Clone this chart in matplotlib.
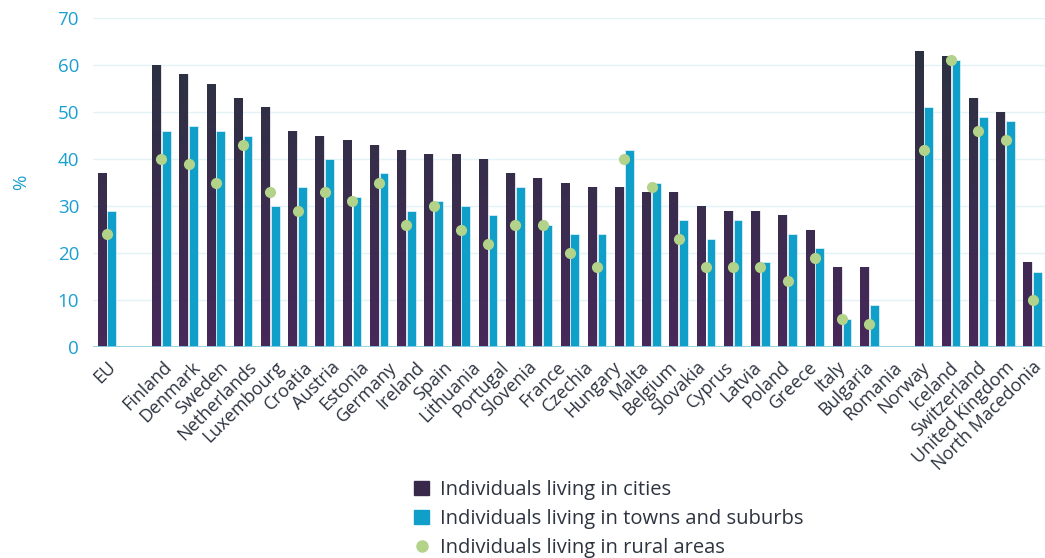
import numpy as np
import matplotlib.pyplot as plt
from matplotlib.colors import LinearSegmentedColormap
from matplotlib.patches import Patch
from matplotlib.lines import Line2D

plt.rcParams['font.family'] = ['Open Sans', 'DejaVu Sans']

countries = ['EU', 'Finland', 'Denmark', 'Sweden', 'Netherlands', 'Luxembourg',
             'Croatia', 'Austria', 'Estonia', 'Germany', 'Ireland', 'Spain',
             'Lithuania', 'Portugal', 'Slovenia', 'France', 'Czechia', 'Hungary',
             'Malta', 'Belgium', 'Slovakia', 'Cyprus', 'Latvia', 'Poland', 'Greece',
             'Italy', 'Bulgaria', 'Romania', 'Norway', 'Iceland', 'Switzerland',
             'United Kingdom', 'North Macedonia']
cities = [37, 60, 58, 56, 53, 51, 46, 45, 44, 43, 42, 41, 41, 40, 37, 36, 35,
          34, 34, 33, 33, 30, 29, 29, 28, 25, 17, 17, 63, 62, 53, 50, 18]
towns = [29, 46, 47, 46, 45, 30, 34, 40, 32, 37, 29, 31, 30, 28, 34, 26, 24,
         24, 42, 35, 27, 23, 27, 18, 24, 21, 6, 9, 51, 61, 49, 48, 16]
rural = [24, 40, 39, 35, 43, 33, 29, 33, 31, 35, 26, 30, 25, 22, 26, 26, 20,
         17, 40, 34, 23, 17, 17, 17, 14, 19, 6, 5, 42, 61, 46, 44, 10]

series_names = ['Individuals living in cities',
                'Individuals living in towns and suburbs',
                'Individuals living in rural areas']

c_top, c_bot = '#2a323f', '#47285a'
c_blue = '#0f9fc8'
c_green = '#b3d38b'
c_axis = '#1b9fd0'
c_text = '#2d3440'

fig = plt.figure(figsize=(10.45, 5.58), dpi=100)
ax = fig.add_axes([93/1045, 1 - 347/558, (1045 - 93)/1045, (347 - 18)/558])

# bar slots: EU, gap, 27 EU members, gap, 5 others
bar_x = np.r_[0, np.arange(2, 29), np.arange(30, 35)]
# category labels sit on their own evenly spaced slots (no gap before Norway)
lab_idx = np.r_[0, np.arange(2, 29), np.arange(29, 34)]
lab_x = lab_idx * 34 / 33

w = 0.32
off = 0.18
dark = ax.bar(bar_x - off, cities, w, color='none', ec='#cfc9d8', lw=0.4, zorder=2)
grad = np.linspace(0, 1, 256).reshape(-1, 1)
cmap = LinearSegmentedColormap.from_list('citygrad', [c_bot, c_top])
for b in dark:
    im = ax.imshow(grad, extent=[b.get_x(), b.get_x() + b.get_width(), 0, 66],
                   origin='lower', aspect='auto', cmap=cmap, zorder=2)
    im.set_clip_path(b)
ax.bar(bar_x + off, towns, w, color=c_blue, ec='white', lw=0.4, zorder=2)
ax.plot(bar_x, rural, 'o', ls='none', color=c_green, ms=7, zorder=4)

ax.axhline(0, color='#8ed0e3', lw=2, zorder=3)
ax.set_yticks(range(0, 71, 10))
ax.grid(axis='y', color='#e3f2f7', lw=1)
ax.set_axisbelow(True)
ax.set_xlim(-0.51, 34.45)
ax.set_ylim(0, 70)

ax.set_xticks(lab_x, countries, rotation=45, ha='right', rotation_mode='anchor',
              fontsize=13, color=c_text)
ax.tick_params(axis='x', length=0, pad=8)
ax.tick_params(axis='y', length=0, pad=10, labelsize=13.5, labelcolor=c_axis)
for s in ax.spines.values():
    s.set_visible(False)
ax.set_ylabel('%', color=c_axis, fontsize=13.5, labelpad=20)

handles = [Patch(color='#38294a'), Patch(color=c_blue),
           Line2D([], [], marker='o', ls='none', color=c_green, ms=8)]
fig.legend(handles, series_names, loc='upper left',
           bbox_to_anchor=(406/1045, 1 - 472/558), frameon=False, fontsize=14.5,
           handlelength=0.75, handleheight=0.75, labelspacing=0.45,
           handletextpad=0.55, labelcolor=c_text, borderaxespad=0)

fig.savefig('out.png', dpi=100)
